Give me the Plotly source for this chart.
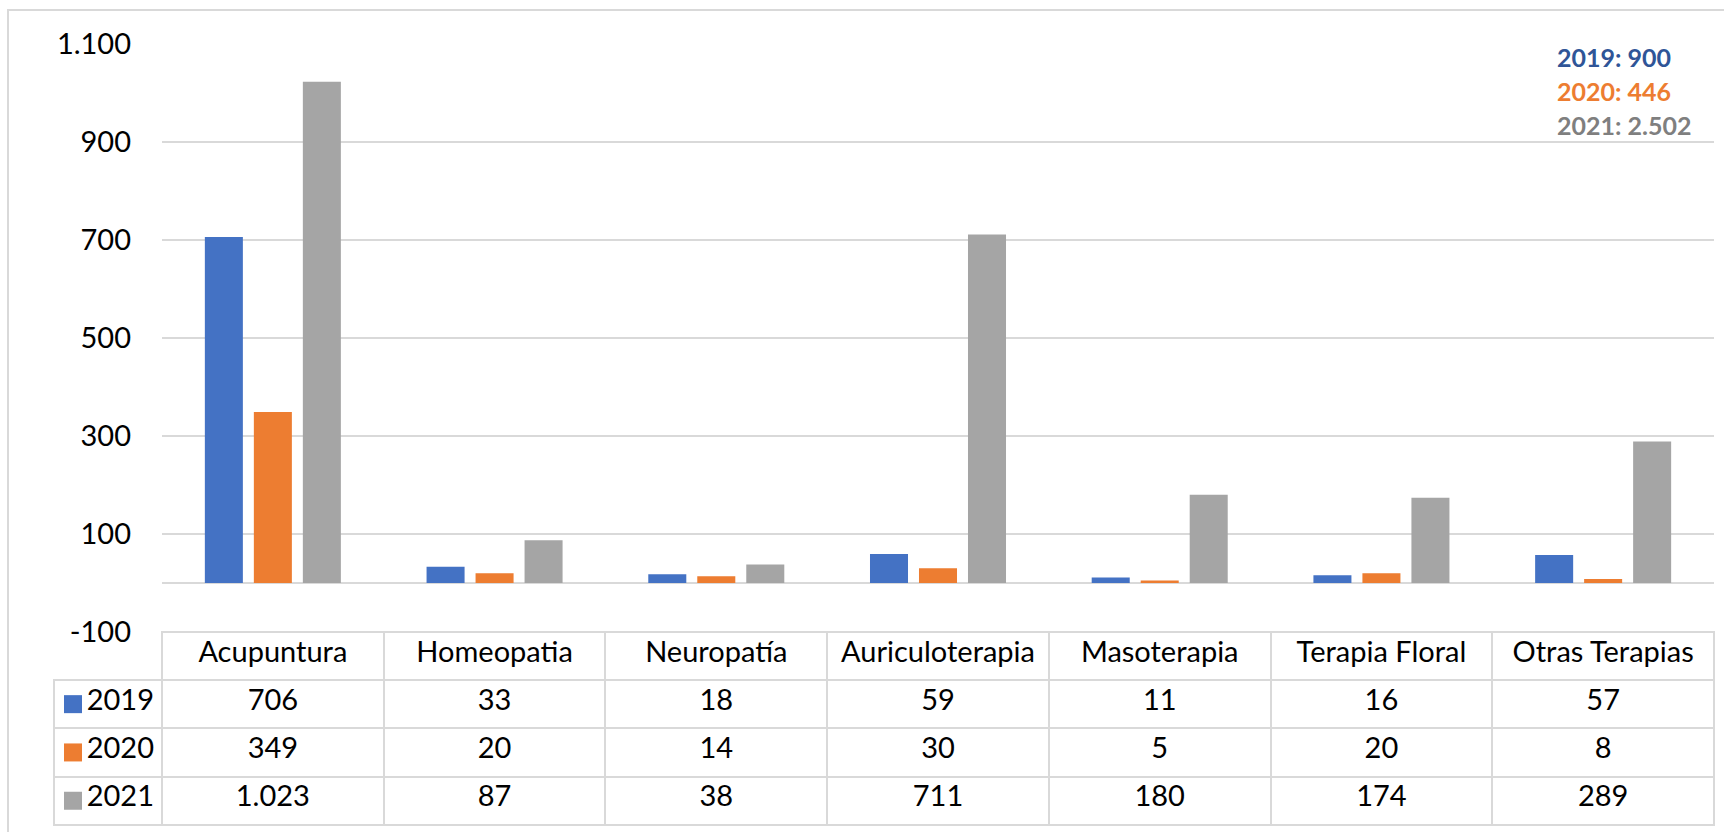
import plotly.graph_objects as go

categories = ["Acupuntura", "Homeopatia", "Neuropatía", "Auriculoterapia",
              "Masoterapia", "Terapia Floral", "Otras Terapias"]
years = ["2019", "2020", "2021"]
v2019 = [706, 33, 18, 59, 11, 16, 57]
v2020 = [349, 20, 14, 30, 5, 20, 8]
v2021 = [1023, 87, 38, 711, 180, 174, 289]
totals = [900, 446, 2502]
ytick_vals = [-100, 100, 300, 500, 700, 900, 1100]

series = [v2019, v2020, v2021]
colors = ["#4472C4", "#ED7D31", "#A5A5A5"]
total_colors = ["#2F5597", "#ED7D31", "#7F7F7F"]

W, H = 1724, 832
FONT = "Lato"
GRID = "#D9D9D9"
CLEAR = "rgba(0,0,0,0)"
TABLE_TOP = 632
HEADER_H = 48
ROW_H = 48.3

def fmt(v):
    return f"{v:,}".replace(",", ".")

fig = go.Figure()
for name, vals, col in zip(years, series, colors):
    fig.add_trace(go.Bar(x=categories, y=vals, name=name, marker_color=col,
                         marker_line_width=0, showlegend=False))

# data table under the chart
table_cols = [years]
for i in range(len(categories)):
    table_cols.append([fmt(s[i]) for s in series])

ncat = len(categories)
fig.add_trace(go.Table(
    domain=dict(x=[54 / W, 1714 / W], y=[2 / H, (H - TABLE_TOP) / H]),
    columnwidth=[108] + [221.7] * ncat,
    header=dict(values=[""] + categories, height=HEADER_H, align="center",
                fill=dict(color=[CLEAR] + ["white"] * ncat),
                line=dict(color=[CLEAR] + [GRID] * ncat, width=2),
                font=dict(family=FONT, size=29, color="black")),
    cells=dict(values=table_cols, height=ROW_H,
               align=["right"] + ["center"] * ncat,
               fill_color="white", line=dict(color=GRID, width=2),
               font=dict(family=FONT, size=29, color="black")),
))

# legend keys in the table's first column
for k, c in enumerate(colors):
    yc = TABLE_TOP + HEADER_H + ROW_H * (k + 0.5)
    fig.add_shape(type="rect", xref="paper", yref="paper",
                  x0=64 / W, x1=82 / W, y0=(H - yc - 9) / H, y1=(H - yc + 9) / H,
                  fillcolor=c, line_width=0)

for k, (y, t, c) in enumerate(zip(years, totals, total_colors)):
    fig.add_annotation(xref="paper", yref="paper", x=1555 / W, y=(H - 57 - 34 * k) / H,
                       xanchor="left", yanchor="middle", showarrow=False,
                       text=f"<b>{y}: {fmt(t)}</b>",
                       font=dict(family=FONT, size=25, color=c))

fig.add_shape(type="rect", xref="paper", yref="paper",
              x0=8 / W, x1=1.02, y0=-0.02, y1=(H - 10) / H,
              line=dict(color=GRID, width=2), fillcolor=CLEAR, layer="below")

fig.update_layout(
    width=W, height=H, margin=dict(l=0, r=0, t=0, b=0, pad=0, autoexpand=False),
    paper_bgcolor="white", plot_bgcolor="white",
    separators=",.",
    barmode="group", bargap=0.337, bargroupgap=0.224,
    font=dict(family=FONT, size=29, color="black"),
    xaxis=dict(domain=[162 / W, 1714 / W], showticklabels=False, showgrid=False,
               zeroline=False, showline=False, ticks="", automargin=False),
    yaxis=dict(domain=[(H - TABLE_TOP) / H, (H - 44) / H], range=[-100, 1100],
               tickmode="array", tickvals=ytick_vals,
               ticktext=[fmt(v) for v in ytick_vals],
               showgrid=True, gridcolor=GRID,
               gridwidth=2, zeroline=True, zerolinecolor=GRID, zerolinewidth=2,
               showline=False, ticks="", ticklabelstandoff=30, automargin=False,
               tickfont=dict(family=FONT, size=29, color="black")),
)

fig.write_html("out.html", config={"displayModeBar": False},
               post_script="document.body.style.margin='0';document.body.style.overflow='hidden';")
